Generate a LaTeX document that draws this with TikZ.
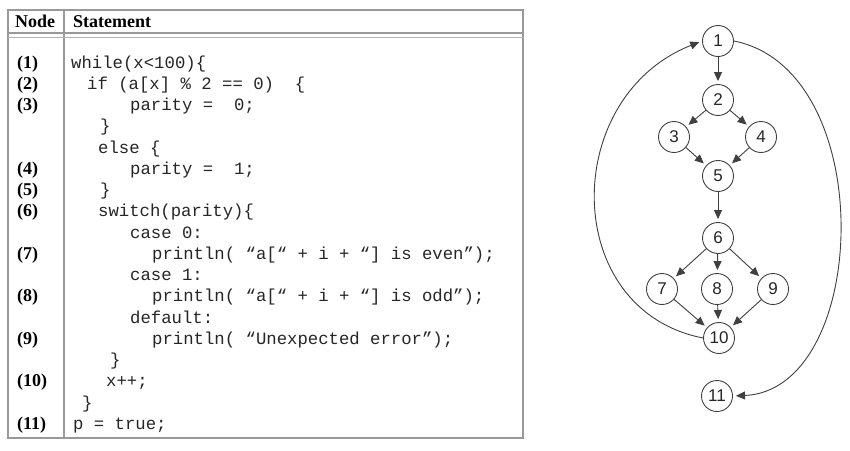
\documentclass[tikz,border=0pt]{standalone}
\usepackage{fontspec}
\setmainfont{Liberation Serif}
\setmonofont{Liberation Mono}
\newfontfamily\digitfont{Liberation Sans}
\usetikzlibrary{arrows.meta}

\tikzset{
  stmt/.style={anchor=base west, inner sep=0pt, text=black!85,
      font=\fontsize{17.3}{20}\selectfont\ttfamily},
  nodenum/.style={anchor=base west, inner sep=0pt,
      font=\fontsize{18}{20}\selectfont\bfseries},
  cfg/.style={circle, draw=black!75, line width=0.9pt, fill=white,
      minimum size=31pt, inner sep=0pt, text=black!85,
      font=\fontsize{17}{17}\selectfont\digitfont},
  flow/.style={draw=black!75, line width=0.9pt,
      -{Triangle[length=9pt,width=8pt]}, shorten >=3pt},
  tableline/.style={draw=black!40, line width=1.2pt}
}

\begin{document}
\begin{tikzpicture}[x=1pt,y=-1pt]
\useasboundingbox[fill=white] (0,0) rectangle (850,450);

% table frame
\draw[tableline] (8,10) rectangle (523,438);
\draw[tableline] (64,10) -- (64,438);
\draw[tableline] (8,33) -- (523,33);
\draw[draw=black!30, line width=0.6pt] (8,37) -- (523,37);

\node[nodenum] (hnode) at (15,27) {Node};
\node[nodenum] (hstmt) at (73,27) {Statement};

% node numbers
\node[nodenum] (lab1) at (17,68) {(1)};
\node[nodenum] (lab2) at (17,89.25) {(2)};
\node[nodenum] (lab3) at (17,110.5) {(3)};
\node[nodenum] (lab4) at (17,174.25) {(4)};
\node[nodenum] (lab5) at (17,195.5) {(5)};
\node[nodenum] (lab6) at (17,216.75) {(6)};
\node[nodenum] (lab7) at (17,259.25) {(7)};
\node[nodenum] (lab8) at (17,301.75) {(8)};
\node[nodenum] (lab9) at (17,344.25) {(9)};
\node[nodenum] (lab10) at (17,386.75) {(10)};
\node[nodenum] (lab11) at (17,429.25) {(11)};

% statements
\node[stmt] (s1) at (71,68) {while(x<100)\{};
\node[stmt] (s2) at (87,89.25) {if (a[x] \% 2 == 0) ~\{};
\node[stmt] (s3) at (130,110.5) {parity = ~0;};
\node[stmt] (s3b) at (100,131.75) {\}};
\node[stmt] (selse) at (98,153) {else \{};
\node[stmt] (s4) at (130,174.25) {parity = ~1;};
\node[stmt] (s5) at (100,195.5) {\}};
\node[stmt] (s6) at (98,216.75) {switch(parity)\{};
\node[stmt] (scase0) at (130,238) {case 0:};
\node[stmt] (s7) at (152,259.25) {println( “a[“ + i + “] is even”);};
\node[stmt] (scase1) at (130,280.5) {case 1:};
\node[stmt] (s8) at (152,301.75) {println( “a[“ + i + “] is odd”);};
\node[stmt] (sdef) at (130,323) {default:};
\node[stmt] (s9) at (152,344.25) {println( “Unexpected error”);};
\node[stmt] (sclose) at (110,365.5) {\}};
\node[stmt] (s10) at (106,386.75) {x++;};
\node[stmt] (swhile) at (82,408) {\}};
\node[stmt] (s11) at (73,429.25) {p = true;};

% flow graph
\node[cfg] (c1) at (718,41) {1};
\node[cfg] (c2) at (718,100) {2};
\node[cfg] (c3) at (674,137) {3};
\node[cfg] (c4) at (761,137) {4};
\node[cfg] (c5) at (718,176) {5};
\node[cfg] (c6) at (718,238) {6};
\node[cfg] (c7) at (662,289) {7};
\node[cfg] (c8) at (717,289) {8};
\node[cfg] (c9) at (773,289) {9};
\node[cfg] (c10) at (719,338) {10};
\node[cfg] (c11) at (717,396) {11};

\draw[flow] (c1) -- (c2);
\draw[flow] (c2) -- (c3);
\draw[flow] (c2) -- (c4);
\draw[flow] (c3) -- (c5);
\draw[flow] (c4) -- (c5);
\draw[flow] (c5) -- (c6);
\draw[flow] (c6) -- (c7);
\draw[flow] (c6) -- (c8);
\draw[flow] (c6) -- (c9);
\draw[flow] (c7) -- (c10);
\draw[flow] (c8) -- (c10);
\draw[flow] (c9) -- (c10);
% loop back and exit
\draw[flow] (c10.west) .. controls (560,310) and (560,97) .. (c1.west);
\draw[flow] (c1.east) .. controls (880,70) and (870,390) .. (c11.east);

\end{tikzpicture}
\end{document}
